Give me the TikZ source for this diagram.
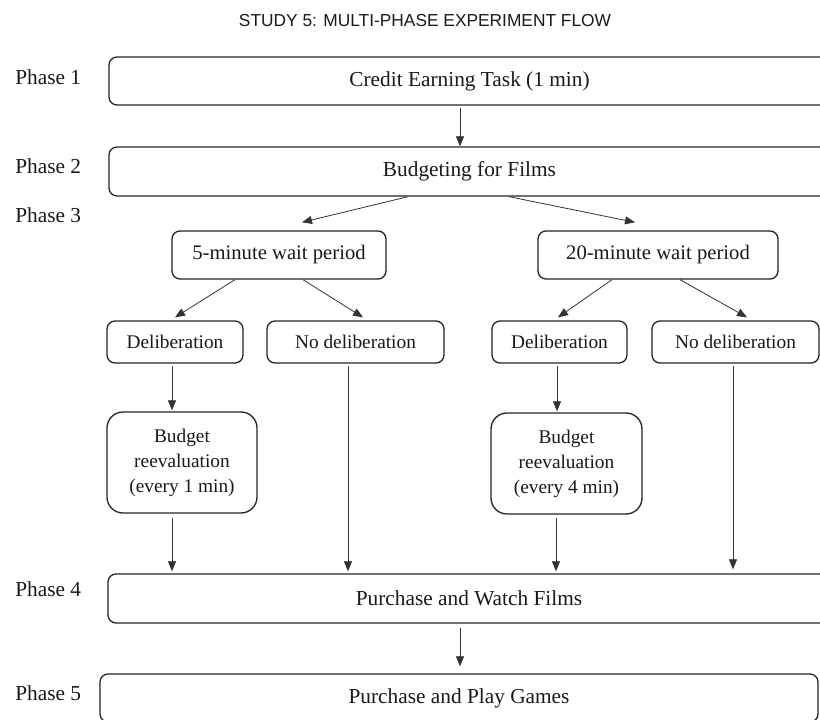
\documentclass[tikz,border=0pt]{standalone}
\usepackage{fontspec}
\setmainfont{Liberation Serif}
\newfontfamily\titlefont{Liberation Sans}
\usetikzlibrary{arrows.meta,calc}
\begin{document}
\begin{tikzpicture}[x=0.75pt,y=-0.75pt,
  box/.style={draw=black!85, line width=1pt, rounded corners=6pt,
    font=\fontsize{14.5}{18.75}\selectfont, text=black!90, align=center, inner sep=0pt},
  widebox/.style={box, font=\fontsize{16}{19}\selectfont},
  waitbox/.style={box, font=\fontsize{15.5}{19}\selectfont},
  roundbox/.style={box, rounded corners=12pt},
  arr/.style={-{Triangle[length=7.5pt,width=6pt]}, line width=0.6pt, draw=black!80},
  phase/.style={anchor=west, font=\fontsize{16}{19}\selectfont, text=black!90, inner sep=0pt}]
\useasboundingbox (0,0) rectangle (820,720);
\clip (0,0) rectangle (820,720);
\fill[white] (0,0) rectangle (820,720);

\node[font=\titlefont\fontsize{13}{15}\selectfont, text=black!90] (title) at (425,21) {STUDY 5: MULTI-PHASE EXPERIMENT FLOW};

\node[phase] (p1) at (15,77) {Phase 1};
\node[phase] (p2) at (15,166) {Phase 2};
\node[phase] (p3) at (15,215) {Phase 3};
\node[phase] (p4) at (15,589) {Phase 4};
\node[phase] (p5) at (15,693) {Phase 5};

\node[widebox, minimum width=540.75pt, minimum height=36pt] (credit) at (469.5,81) {Credit Earning Task (1 min)};
\node[widebox, minimum width=540.75pt, minimum height=36.75pt] (budget) at (469.5,171.5) {Budgeting for Films};
\node[waitbox, minimum width=160.5pt, minimum height=36pt] (wait5) at (279,255) {5-minute wait period};
\node[waitbox, minimum width=180pt, minimum height=36pt] (wait20) at (658,255) {20-minute wait period};
\node[box, minimum width=102pt, minimum height=31.5pt] (delib1) at (175,342) {Deliberation};
\node[box, minimum width=132.75pt, minimum height=31.5pt] (nodelib1) at (355.5,342) {No deliberation};
\node[box, minimum width=101.25pt, minimum height=31.5pt] (delib2) at (559.5,342) {Deliberation};
\node[box, minimum width=125.25pt, minimum height=31.5pt] (nodelib2) at (735.5,342) {No deliberation};
\node[roundbox, minimum width=112.5pt, minimum height=75.75pt] (reeval1) at (182,462.5) {Budget\\reevaluation\\(every 1 min)};
\node[roundbox, minimum width=113.25pt, minimum height=75.75pt] (reeval2) at (566.5,463.5) {Budget\\reevaluation\\(every 4 min)};
\node[widebox, minimum width=541.5pt, minimum height=36.75pt] (watch) at (469,598.5) {Purchase and Watch Films};
\node[widebox, minimum width=538.5pt, minimum height=36pt] (games) at (459,698) {Purchase and Play Games};

\draw[arr] ($(credit.south)+(-9.5,2)$) -- ($(budget.north)+(-9.5,0)$);
\draw[arr] ($(budget.south)+(-61.5,0)$) -- ($(wait5.north)+(23,-8)$);
\draw[arr] ($(budget.south)+(39.5,0)$) -- ($(wait20.north)+(-23,-8)$);
\draw[arr] ($(wait5.south)+(-44,0)$) -- ($(delib1.north)+(0,-3)$);
\draw[arr] ($(wait5.south)+(24,0)$) -- ($(nodelib1.north)+(7.5,-3)$);
\draw[arr] ($(wait20.south)+(-46,0)$) -- ($(delib2.north)+(-1.5,-3)$);
\draw[arr] ($(wait20.south)+(22,0)$) -- ($(nodelib2.north)+(11.5,-3)$);
\draw[arr] ($(delib1.south)+(-3,2)$) -- ($(reeval1.north)+(-10,-1)$);
\draw[arr] ($(delib2.south)+(-2.5,2)$) -- ($(reeval2.north)+(-9.5,-1)$);
\draw[arr] ($(reeval1.south)+(-10,4)$) -- ($(watch.north)+(-297,-2)$);
\draw[arr] ($(nodelib1.south)+(-7.5,2)$) -- ($(watch.north)+(-121,-2)$);
\draw[arr] ($(reeval2.south)+(-10.5,3)$) -- ($(watch.north)+(87,-2)$);
\draw[arr] ($(nodelib2.south)+(-2.5,2)$) -- ($(watch.north)+(264,-4)$);
\draw[arr] ($(watch.south)+(-9,4)$) -- ($(games.north)+(1,-7)$);
\end{tikzpicture}
\end{document}
